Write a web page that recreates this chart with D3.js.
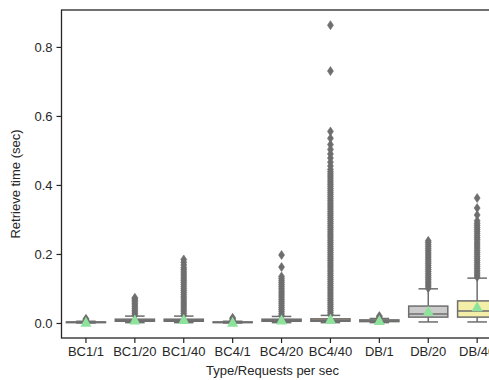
<!DOCTYPE html>
<html>
<head>
<meta charset="utf-8">
<script src="https://cdn.jsdelivr.net/npm/d3@7"></script>
<style>
body { margin: 0; background: #fff; }
svg { display: block; font-family: "Liberation Sans", Arial, sans-serif; }
</style>
</head>
<body>
<svg id="chart" width="489" height="380"></svg>
<script>
// categories and box statistics (sec)
var categories = ["BC1/1", "BC1/20", "BC1/40", "BC4/1", "BC4/20", "BC4/40", "DB/1", "DB/20", "DB/40"];
var q1      = [0.001, 0.005, 0.005, 0.001, 0.005, 0.005, 0.004, 0.017, 0.017];
var median  = [0.002, 0.007, 0.007, 0.002, 0.007, 0.008, 0.006, 0.026, 0.035];
var q3      = [0.003, 0.011, 0.011, 0.003, 0.011, 0.012, 0.009, 0.049, 0.064];
var whiskLo = [0.000, 0.001, 0.001, 0.000, 0.001, 0.001, 0.001, 0.003, 0.003];
var whiskHi = [0.005, 0.020, 0.020, 0.005, 0.019, 0.022, 0.013, 0.099, 0.130];
var means   = [0.002, 0.009, 0.010, 0.002, 0.009, 0.011, 0.007, 0.034, 0.047];

// outliers per category
var fliers = [
  [0.006, 0.008, 0.010, 0.012],
  [0.022, 0.027, 0.032, 0.037, 0.042, 0.047, 0.052, 0.057, 0.062, 0.066, 0.070, 0.073],
  [0.022, 0.028, 0.034, 0.040, 0.046, 0.052, 0.058, 0.064, 0.070, 0.076, 0.082, 0.088, 0.094, 0.100,
   0.106, 0.112, 0.118, 0.124, 0.130, 0.136, 0.142, 0.148, 0.154, 0.160, 0.168, 0.176, 0.184],
  [0.006, 0.009, 0.012, 0.015],
  [0.021, 0.027, 0.033, 0.039, 0.045, 0.051, 0.057, 0.063, 0.069, 0.075, 0.081, 0.087, 0.093, 0.099,
   0.105, 0.111, 0.117, 0.123, 0.129, 0.135, 0.162, 0.197],
  [0.024, 0.030, 0.036, 0.042, 0.048, 0.054, 0.060, 0.066, 0.072, 0.078, 0.084, 0.090, 0.096, 0.102,
   0.108, 0.114, 0.120, 0.126, 0.132, 0.138, 0.144, 0.150, 0.156, 0.162, 0.168, 0.174, 0.180, 0.186,
   0.192, 0.198, 0.204, 0.210, 0.216, 0.222, 0.228, 0.234, 0.240, 0.246, 0.252, 0.258, 0.264, 0.270,
   0.276, 0.282, 0.288, 0.294, 0.300, 0.306, 0.312, 0.318, 0.324, 0.330, 0.336, 0.342, 0.348, 0.354,
   0.360, 0.366, 0.372, 0.378, 0.384, 0.390, 0.396, 0.402, 0.408, 0.414, 0.420, 0.426, 0.432, 0.438,
   0.445, 0.455, 0.466, 0.478, 0.490, 0.503, 0.517, 0.535, 0.555, 0.730, 0.863],
  [0.014, 0.017, 0.020],
  [0.101, 0.107, 0.113, 0.119, 0.125, 0.131, 0.137, 0.143, 0.149, 0.155, 0.161, 0.167, 0.173, 0.179,
   0.185, 0.191, 0.197, 0.203, 0.209, 0.215, 0.221, 0.227, 0.233, 0.238],
  [0.133, 0.139, 0.145, 0.151, 0.157, 0.163, 0.169, 0.175, 0.181, 0.187, 0.193, 0.199, 0.205, 0.211,
   0.217, 0.223, 0.229, 0.235, 0.241, 0.247, 0.253, 0.259, 0.265, 0.271, 0.277, 0.283, 0.289, 0.296,
   0.313, 0.333, 0.362]
];
var boxColors = ["#93c8bf", "#f2efb3", "#bab8cf", "#e98f85", "#8eb0c9", "#eab785", "#b2cf80", "#cbcbcb", "#f3eea8"];
var yTicks = [0.0, 0.2, 0.4, 0.6, 0.8];

var svg = d3.select("#chart");
var plotLeft = 61.5, plotTop = 10, plotBottom = 338, plotRight = 501.6;
var lineCol = "#6e6e6e", axisCol = "#262626";

var x = d3.scaleBand().domain(categories).range([plotLeft, plotRight]);
var y = d3.scaleLinear().domain([-0.0435, 0.907]).range([plotBottom, plotTop]);
var bw = x.bandwidth() * 0.8;

var rows = categories.map(function(c, i) {
  return {cat: c, q1: q1[i], med: median[i], q3: q3[i], lo: whiskLo[i], hi: whiskHi[i],
          mean: means[i], fl: fliers[i], col: boxColors[i]};
});

var g = svg.append("g");
var box = g.selectAll("g.box").data(rows).enter().append("g").attr("class", "box")
  .attr("transform", function(d) { return "translate(" + (x(d.cat) + x.bandwidth() / 2) + ",0)"; });

// whiskers
box.append("line").attr("x1", 0).attr("x2", 0)
  .attr("y1", function(d) { return y(d.q3); }).attr("y2", function(d) { return y(d.hi); })
  .attr("stroke", lineCol).attr("stroke-width", 1.5);
box.append("line").attr("x1", 0).attr("x2", 0)
  .attr("y1", function(d) { return y(d.q1); }).attr("y2", function(d) { return y(d.lo); })
  .attr("stroke", lineCol).attr("stroke-width", 1.5);
box.selectAll("line.cap").data(function(d) { return [d.lo, d.hi]; }).enter().append("line")
  .attr("class", "cap")
  .attr("x1", -bw / 4).attr("x2", bw / 4)
  .attr("y1", function(v) { return y(v); }).attr("y2", function(v) { return y(v); })
  .attr("stroke", lineCol).attr("stroke-width", 1.5);

// box
box.append("rect")
  .attr("x", -bw / 2).attr("width", bw)
  .attr("y", function(d) { return y(d.q3); })
  .attr("height", function(d) { return Math.max(y(d.q1) - y(d.q3), 0.5); })
  .attr("fill", function(d) { return d.col; })
  .attr("stroke", lineCol).attr("stroke-width", 1.5);
box.append("line").attr("x1", -bw / 2).attr("x2", bw / 2)
  .attr("y1", function(d) { return y(d.med); }).attr("y2", function(d) { return y(d.med); })
  .attr("stroke", lineCol).attr("stroke-width", 1.5);

// fliers, thin diamonds
box.selectAll("path.flier").data(function(d) { return d.fl; }).enter().append("path")
  .attr("class", "flier")
  .attr("d", function(v) {
    var cy = y(v);
    return "M0," + (cy - 4.5) + "L3," + cy + "L0," + (cy + 4.5) + "L-3," + cy + "Z";
  })
  .attr("fill", lineCol).attr("stroke", lineCol).attr("stroke-width", 0.6);

// mean markers
box.append("path")
  .attr("d", function(d) {
    var cy = y(d.mean);
    return "M0," + (cy - 5.5) + "L5.5," + (cy + 4.5) + "L-5.5," + (cy + 4.5) + "Z";
  })
  .attr("fill", "#8ee39c");

// axes
var yAxis = svg.append("g").attr("transform", "translate(" + plotLeft + ",0)")
  .call(d3.axisLeft(y).tickValues(yTicks).tickFormat(d3.format(".1f")).tickSize(5).tickPadding(4));
var xAxis = svg.append("g").attr("transform", "translate(0," + plotBottom + ")")
  .call(d3.axisBottom(x).tickSize(5).tickPadding(4));
[yAxis, xAxis].forEach(function(a) {
  a.select(".domain").remove();
  a.selectAll("line").attr("stroke", axisCol).attr("stroke-width", 1.2);
  a.selectAll("text").attr("fill", axisCol).style("font-size", "13px")
    .style("font-family", "'Liberation Sans', Arial, sans-serif");
});

// frame
svg.append("rect").attr("x", plotLeft).attr("y", plotTop)
  .attr("width", plotRight - plotLeft).attr("height", plotBottom - plotTop)
  .attr("fill", "none").attr("stroke", axisCol).attr("stroke-width", 1.3);

svg.append("text").attr("x", (plotLeft + plotRight) / 2 - 9).attr("y", 375)
  .attr("text-anchor", "middle").attr("fill", axisCol).style("font-size", "13px")
  .text("Type/Requests per sec");
svg.append("text").attr("transform", "translate(20," + ((plotTop + plotBottom) / 2 + 10) + ") rotate(-90)")
  .attr("text-anchor", "middle").attr("fill", axisCol).style("font-size", "13px")
  .text("Retrieve time (sec)");
</script>
</body>
</html>
